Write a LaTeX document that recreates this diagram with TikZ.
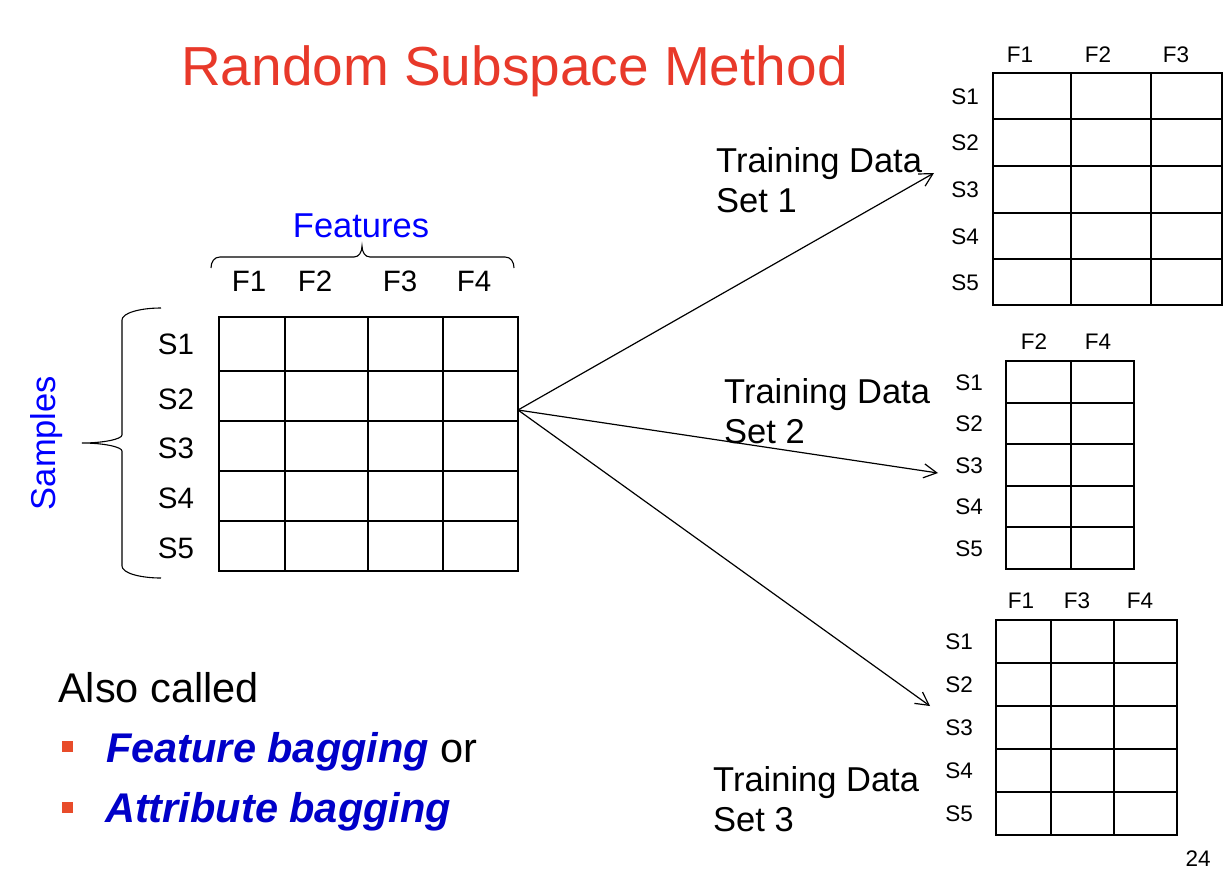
\documentclass[tikz,border=0pt]{standalone}
\usepackage{fontspec}
\setmainfont{Liberation Sans}
\usepackage{tikz}
\usepackage{xcolor}
\usetikzlibrary{arrows.meta}
\definecolor{titlered}{RGB}{232,57,42}
\definecolor{bulletred}{RGB}{232,76,42}
\definecolor{featblue}{RGB}{0,0,255}
\definecolor{bagblue}{RGB}{0,0,200}

\begin{document}
\begin{tikzpicture}[x=1pt,y=-1pt,
		cell/.style={line width=1.7pt},
		brc/.style={line width=1.1pt},
		conn/.style={line width=1.2pt,-{Straight Barb[length=13pt,width=14pt,line width=1.2pt]}},
		lbl/.style={inner sep=0pt,anchor=base},
		ttl/.style={lbl,anchor=base west,text=titlered,font=\fontsize{55}{60}\selectfont},
		big/.style={lbl,font=\fontsize{34.5}{40}\selectfont},
		mlab/.style={lbl,font=\fontsize{29.5}{32}\selectfont},
		slab/.style={lbl,font=\fontsize{22.5}{26}\selectfont},
		note/.style={lbl,anchor=base west,font=\fontsize{41.5}{46}\selectfont},
		dot/.style={fill=bulletred,inner sep=0pt,minimum size=11pt}]
		\useasboundingbox (0,0) rectangle (1228,884);
		\node[ttl] (title) at (181,85) {Random Subspace Method};
		\node[big,text=featblue] (features) at (361,237) {Features};
		\node[big,text=featblue,rotate=90] (samples) at (55,443) {Samples};
		\draw[brc] (211,268) .. controls (211,262) and (214,257) .. (220,257) -- (354,257) .. controls (359,257) and (362,252) .. (362,246) .. controls (362,252) and (365,257) .. (370,257) -- (505,257) .. controls (511,257) and (514,262) .. (514,268);
		\draw[brc] (161,308) .. controls (140,308) and (122,313) .. (122,320) -- (122,435) .. controls (122,439) and (104,443) .. (82,443) .. controls (104,443) and (122,447) .. (122,451) -- (122,566) .. controls (122,573) and (140,578) .. (161,578);
		\foreach \x/\t in {249/F1,315/F2,400/F3,474/F4} \node[mlab] (m\t) at (\x,291) {\t};
		\foreach \y/\t in {354/S1,409/S2,458/S3,508/S4,558/S5} \node[mlab] (m\t) at (176,\y) {\t};
		\foreach \x in {285,368,443} \draw[cell] (\x,317) -- (\x,571);
		\foreach \y in {371,421,471,521} \draw[cell] (219,\y) -- (518,\y);
		\draw[cell] (219,317) rectangle (518,571);
		\foreach \x/\t in {1020/F1,1098/F2,1176/F3} \node[slab] (a\t) at (\x,62) {\t};
		\foreach \y/\t in {104/S1,150/S2,197/S3,244/S4,290/S5} \node[slab] (a\t) at (965,\y) {\t};
		\foreach \x in {1071,1151} \draw[cell] (\x,73) -- (\x,305);
		\foreach \y in {119,166,213,259} \draw[cell] (993,\y) -- (1222,\y);
		\draw[cell] (993,73) rectangle (1222,305);
		\foreach \x/\t in {1034/F2,1098/F4} \node[slab] (b\t) at (\x,349) {\t};
		\foreach \y/\t in {390/S1,431/S2,473/S3,514/S4,556/S5} \node[slab] (b\t) at (969,\y) {\t};
		\draw[cell] (1071,361) -- (1071,569);
		\foreach \y in {403,444,486,527} \draw[cell] (1006,\y) -- (1134,\y);
		\draw[cell] (1006,361) rectangle (1134,569);
		\foreach \x/\t in {1021/F1,1077/F3,1140/F4} \node[slab] (c\t) at (\x,608) {\t};
		\foreach \y/\t in {649/S1,692/S2,735/S3,778/S4,821/S5} \node[slab] (c\t) at (959,\y) {\t};
		\foreach \x in {1051,1114} \draw[cell] (\x,620) -- (\x,835);
		\foreach \y in {663,706,749,792} \draw[cell] (996,\y) -- (1177,\y);
		\draw[cell] (996,620) rectangle (1177,835);
		\node[big,anchor=base west,align=left] (trainA) at (716,212) {Training Data\\Set 1};
		\node[big,anchor=base west,align=left] (trainB) at (724,443) {Training Data\\Set 2};
		\node[big,anchor=base west,align=left] (trainC) at (713,831) {Training Data\\Set 3};
		\coordinate (src) at (518,410);
		\coordinate (tipA) at (934,173);
		\coordinate (tipB) at (938,473);
		\coordinate (tipC) at (930,706);
		\draw[conn] (src) -- (tipA);
		\draw[conn] (src) -- (tipB);
		\draw[conn] (src) -- (tipC);
		\node[note] (also) at (58,702) {Also called};
		\node[dot] (dotA) at (67.5,746.5) {};
		\node[dot] (dotB) at (67.5,807) {};
		\node[note] (bagA) at (106,762) {\textcolor{bagblue}{\bfseries\itshape Feature bagging} or};
		\node[note,text=bagblue] (bagB) at (105,822) {\bfseries\itshape Attribute bagging};
		\node[slab] (page) at (1198,866) {24};
	\end{tikzpicture}
\end{document}
